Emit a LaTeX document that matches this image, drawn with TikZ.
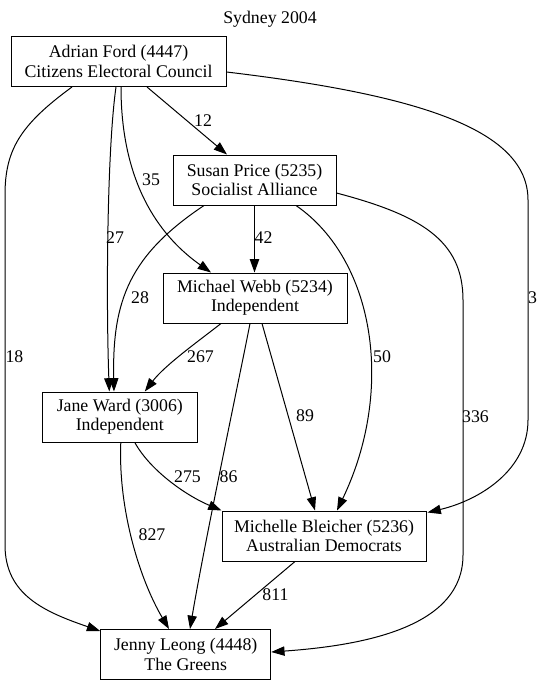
\documentclass[tikz,border=0pt]{standalone}
\usepackage{fontspec}
\setmainfont{Liberation Serif}
\usetikzlibrary{arrows.meta,calc}
\begin{document}
\begin{tikzpicture}[x=0.75pt,y=-0.75pt,
  txt/.style={font=\fontsize{13.35}{14.5}\selectfont},
  box/.style={txt,draw,rectangle,line width=0.75pt,inner sep=0pt,minimum height=37.5pt,align=center},
  lbl/.style={txt,inner sep=0pt},
  conn/.style={draw,line width=0.75pt,-{Triangle[length=10pt,width=7pt]}}]
\useasboundingbox[fill=white] (0,0) rectangle (543,685);
\node[lbl] (title) at (270,19) {Sydney 2004};
\node[box,minimum width=161.25pt] (A) at (118.5,61.5) {Adrian Ford (4447)\\Citizens Electoral Council};
\node[box,minimum width=122.25pt] (S) at (254.5,180) {Susan Price (5235)\\Socialist Alliance};
\node[box,minimum width=138pt] (M) at (255,298) {Michael Webb (5234)\\Independent};
\node[box,minimum width=116.25pt] (J) at (119.8,417) {Jane Ward (3006)\\Independent};
\node[box,minimum width=153pt] (B) at (324,536) {Michelle Bleicher (5236)\\Australian Democrats};
\node[box,minimum width=127.5pt] (L) at (185.7,654.5) {Jenny Leong (4448)\\The Greens};
% edges
\draw[conn] ($(A.south)+(28.5,0)$) -- ($(S.north)+(-27.5,0)$);
\draw[conn] ($(A.south)+(2.5,0)$) .. controls (121,190) and (165,240) .. ($(M.north)+(-44,0)$);
\draw[conn] ($(A.south)+(-2.5,0)$) .. controls (107,150) and (106,300) .. ($(J.north)+(-10.5,0)$);
\draw[conn] ($(A.south)+(-46.5,0)$) .. controls (20,125) and (5,150) .. (5,195) -- (5,545) .. controls (5,595) and (45,612) .. ($(L.north west)+(0,2)$);
\draw[conn] ($(A.east)+(0,10.5)$) .. controls (420,95) and (528,130) .. (528,200) -- (528,420) .. controls (528,470) and (480,500) .. ($(B.north east)+(1,2)$);
\draw[conn] ($(S.south)+(-50.5,0)$) .. controls (130,255) and (112,300) .. ($(J.north)+(-5.8,0)$);
\draw[conn] (S.south) -- (S.south |- M.north);
\draw[conn] ($(S.south)+(41.5,0)$) .. controls (375,260) and (395,390) .. ($(B.north)+(13,0)$);
\draw[conn] ($(S.east)+(0,13)$) .. controls (420,215) and (463,240) .. (463,300) -- (463,555) .. controls (463,625) and (370,645) .. ($(L.east)+(0,-2.5)$);
\draw[conn] ($(M.south)+(-34,0)$) .. controls (200,340) and (165,365) .. ($(J.north)+(25,0)$);
\draw[conn] ($(M.south)+(-5,0)$) .. controls (240,375) and (205,540) .. ($(L.north)+(4.3,0)$);
\draw[conn] ($(M.south)+(7,0)$) -- ($(B.north)+(-9,0)$);
\draw[conn] ($(J.south)+(15,0)$) .. controls (150,470) and (185,495) .. (B.north west);
\draw[conn] ($(J.south)+(1,0)$) .. controls (118,510) and (140,580) .. ($(L.north)+(-16.7,0)$);
\draw[conn] ($(B.south)+(-29,0)$) -- ($(L.north)+(29.3,0)$);
% labels
\node[lbl] (l12) at (203,121) {12};
\node[lbl] (l35) at (151,180) {35};
\node[lbl] (l27) at (115,238) {27};
\node[lbl] (l18) at (14.5,357) {18};
\node[lbl] (l3) at (532.5,298) {3};
\node[lbl] (l28) at (140,298) {28};
\node[lbl] (l42) at (263.5,238) {42};
\node[lbl] (l50) at (382,357) {50};
\node[lbl] (l336) at (475.5,417) {336};
\node[lbl] (l267) at (200.5,357) {267};
\node[lbl] (l86) at (228.5,477) {86};
\node[lbl] (l89) at (305,416) {89};
\node[lbl] (l275) at (187.5,477) {275};
\node[lbl] (l827) at (152,535) {827};
\node[lbl] (l811) at (275.5,595) {811};
\end{tikzpicture}
\end{document}
